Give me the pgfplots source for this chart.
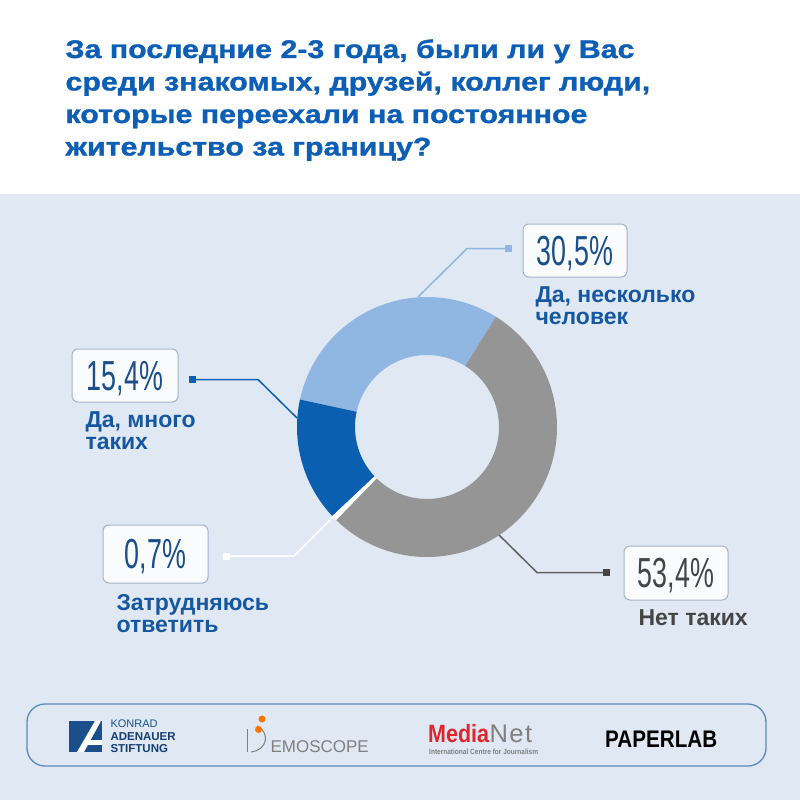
\documentclass[border=0pt]{standalone}
\usepackage{fontspec}
\usepackage{pgfplots}
\pgfplotsset{compat=1.18}
\usepackage{pgfplotstable}
\usetikzlibrary{calc}

\setmainfont{Liberation Sans}
\newfontfamily\titlefont[FakeStretch=1.19, FakeBold=1.2]{Liberation Sans Bold}
\newfontfamily\condbold[FakeStretch=0.86]{Liberation Sans Bold}
\newfontfamily\numfont[FakeStretch=0.64]{Liberation Sans}

\definecolor{bg}{HTML}{DFE8F3}
\definecolor{titleblue}{HTML}{0D5FB5}
\definecolor{sliceLight}{HTML}{8FB7E2}
\definecolor{sliceDark}{HTML}{0A5FB0}
\definecolor{sliceGray}{HTML}{959595}
\definecolor{numblue}{HTML}{1B4F8B}
\definecolor{labblue}{HTML}{1557A0}
\definecolor{txtgray}{HTML}{454545}
\definecolor{boxline}{HTML}{A6B4C8}
\definecolor{boxfill}{HTML}{F9FBFD}
\definecolor{frame}{HTML}{5B88BD}
\definecolor{kas}{HTML}{1A4F8C}
\definecolor{medred}{HTML}{E0262B}

% shares in percent, drawn counterclockwise from 58 degrees
\pgfplotstableread{
share colour
30.5 sliceLight
15.4 sliceDark
0.7 white
53.4 sliceGray
}\donut

\tikzset{
  num/.style={anchor=base, font=\numfont\fontsize{42}{42}\selectfont, text=numblue},
  lab/.style={anchor=base west, font=\bfseries\fontsize{23}{23}\selectfont, text=labblue},
  ttl/.style={anchor=base west, font=\titlefont\fontsize{25.5}{25.5}\selectfont, text=titleblue},
  valbox/.style={draw=boxline, fill=boxfill, line width=1pt, rounded corners=6pt},
}

\begin{document}
\begin{tikzpicture}[x=1pt,y=-1pt]
\fill[white] (0,0) rectangle (800,800);
\fill[bg] (0,194) rectangle (800,800);

% title
\node[ttl] at (62,58) {За последние 2-3 года, были ли у Вас};
\node[ttl] at (62,90.5) {среди знакомых, друзей, коллег люди,};
\node[ttl] at (62,123) {которые переехали на постоянное};
\node[ttl] at (62,155.5) {жительство за границу?};

\begin{axis}[at={(427pt,-427pt)}, anchor=center, x=1pt, y=1pt,
  xmin=-135, xmax=135, ymin=-135, ymax=135,
  hide axis, scale only axis, clip=false]
\def\cum{58}
\pgfplotsforeachungrouped \i in {0,...,3}{
  \pgfplotstablegetelem{\i}{share}\of\donut \let\share\pgfplotsretval
  \pgfplotstablegetelem{\i}{colour}\of\donut \let\slicecol\pgfplotsretval
  \pgfmathsetmacro\endang{\cum+3.6*\share}
  \edef\temp{\noexpand\fill[\slicecol]
    ($(axis cs:0,0)+(\cum:130pt)$)
    arc[start angle=\cum, end angle=\endang, radius=130pt]
    -- ($(axis cs:0,0)+(\endang:72pt)$)
    arc[start angle=\endang, end angle=\cum, radius=72pt] -- cycle;}
  \temp
  \let\cum\endang
}
\end{axis}

% leader lines
\draw[sliceLight, line width=1.5pt] (418,297) -- (467,248.5) -- (508,248.5);
\fill[sliceLight] (505,245) rectangle (512,252);
\draw[sliceDark, line width=1.5pt] (297,418) -- (258,379.5) -- (192,379.5);
\fill[sliceDark] (189,376) rectangle (196,383);
\draw[white, line width=1.5pt] (338,512) -- (294,556) -- (226,556);
\fill[white] (223,552.5) rectangle (230,559.5);
\draw[txtgray!85, line width=1.5pt] (499,535) -- (537,572.5) -- (606,572.5);
\fill[txtgray] (603,569) rectangle (610,576);

% value boxes
\draw[valbox] (523,224) rectangle (627,277);
\node[num] at (575,265) {30,5\%};
\draw[valbox] (72,349) rectangle (178,402);
\node[num] at (125,390) {15,4\%};
\draw[valbox] (103,525) rectangle (208,583);
\node[num] at (155.5,568.5) {0,7\%};
\draw[valbox] (624,546) rectangle (728,600);
\node[num, text=txtgray] at (676,587.5) {53,4\%};

% category labels
\node[lab] at (532,302) {Да, несколько};
\node[lab] at (532,324) {человек};
\node[lab] at (82,427) {Да, много};
\node[lab] at (82,449) {таких};
\node[lab] at (113,610) {Затрудняюсь};
\node[lab] at (113,632) {ответить};
\node[lab, text=txtgray] at (635,625) {Нет таких};

% partner logos
\draw[frame, line width=1.3pt, rounded corners=18pt] (27,704) rectangle (766,766);
\fill[kas] (69,721) rectangle (102,752);
\fill[white] (77,752) -- (95,721) -- (101,721) -- (84,752) -- cycle;
\fill[white] (88,740) rectangle (102,745);
\node[anchor=base west, font=\fontsize{11}{11}\selectfont, text=kas] at (107,727.5) {KONRAD};
\node[anchor=base west, font=\bfseries\fontsize{11.5}{11.5}\selectfont, text=kas!80!black] at (107,740) {ADENAUER};
\node[anchor=base west, font=\bfseries\fontsize{11.5}{11.5}\selectfont, text=kas!80!black] at (107,752) {STIFTUNG};

\draw[gray, line width=1pt] (247,729) -- (247,752);
\draw[gray, line width=1pt] (251,752) .. controls (268,750) and (270,732) .. (257,726);
\fill[orange!90!red] (262,719) circle[radius=3.5pt];
\fill[orange!90!red] (258.5,729.5) circle[radius=3.5pt];
\node[anchor=base west, font=\fontsize{17}{17}\selectfont, text=gray] at (267,752) {EMOSCOPE};

\node[anchor=base west, inner sep=0pt, font=\condbold\fontsize{25}{25}\selectfont, text=medred] (media) at (428,742) {Media};
\node[anchor=base west, inner sep=0pt, font=\addfontfeature{LetterSpace=6}\fontsize{25.5}{25.5}\selectfont, text=gray] at (media.base east) {Net};
\node[anchor=base west, inner sep=0pt, font=\condbold\fontsize{7.6}{7.6}\selectfont, text=gray] at (429,754) {International Centre for Journalism};

\node[anchor=base west, inner sep=0pt, font=\condbold\fontsize{24}{24}\selectfont, text=black] at (605,747) {PAPERLAB};
\end{tikzpicture}
\end{document}
